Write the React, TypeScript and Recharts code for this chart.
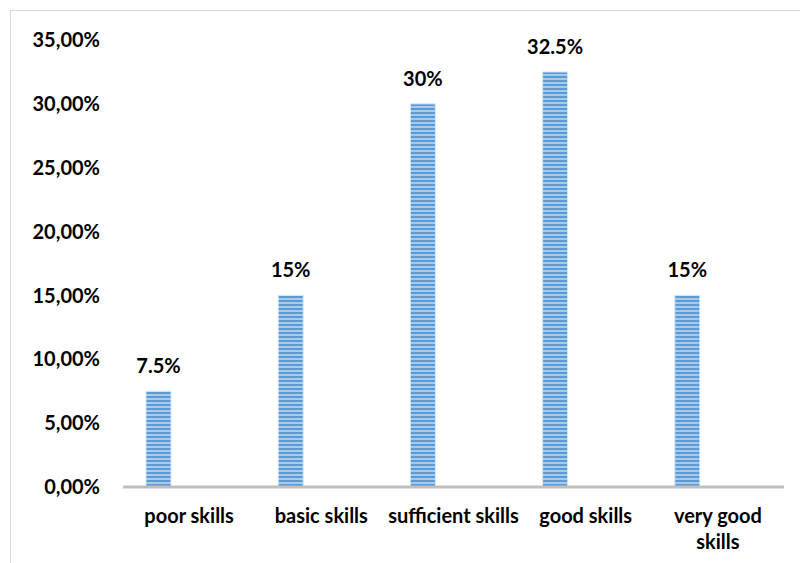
import { BarChart, Bar, XAxis, YAxis, LabelList } from 'recharts';

const categories = ['poor skills', 'basic skills', 'sufficient skills', 'good skills', 'very good skills'];
const shares = [7.5, 15, 30, 32.5, 15];
const yTicks = [0, 5, 10, 15, 20, 25, 30, 35];
// how the category labels wrap in the original
const tickLines: Record<string, string[]> = {
  'very good skills': ['very good', 'skills'],
};

const data = categories.map((name, i) => ({ name, share: shares[i], empty: 0 }));

const font = 'Lato, "Open Sans", sans-serif';

function CategoryTick(props: any) {
  const { x, y, payload } = props;
  const lines = tickLines[payload.value] || [payload.value];
  return (
    <g transform={`translate(${x},${y})`}>
      {lines.map((line: string, i: number) => (
        <text
          key={i}
          x={0}
          y={20 + i * 26}
          textAnchor="middle"
          dominantBaseline="central"
          fontFamily={font}
          fontWeight={700}
          fontSize={20}
          fill="#000"
        >
          {line}
        </text>
      ))}
    </g>
  );
}

export default function App() {
  return (
    <div style={{ position: 'absolute', left: 0, top: 0, width: 800, height: 563, background: '#fff' }}>
      <div
        style={{
          position: 'absolute',
          left: 10,
          top: 10,
          width: 800,
          height: 563,
          border: '1px solid #d9d9d9',
        }}
      />
      <BarChart
        width={800}
        height={563}
        data={data}
        margin={{ top: 40, right: 16, left: 0, bottom: 0 }}
        barSize={25}
        barGap={36}
        style={{ position: 'absolute', left: 0, top: 0 }}
      >
        <defs>
          <pattern id="stripes" width="4" height="4" patternUnits="userSpaceOnUse">
            <rect width="4" height="4" fill="#a9cbeb" />
            <rect width="4" height="2" fill="#5b9bd5" />
          </pattern>
        </defs>
        <XAxis
          dataKey="name"
          height={76}
          tick={<CategoryTick />}
          tickLine={false}
          axisLine={{ stroke: '#bfbfbf', strokeWidth: 3 }}
          interval={0}
        />
        <YAxis
          width={123}
          domain={[0, 35]}
          ticks={yTicks}
          tickFormatter={(v) => v.toFixed(2).replace('.', ',') + '%'}
          tickLine={false}
          axisLine={false}
          tickSize={0}
          tickMargin={23}
          tick={{ fontFamily: font, fontWeight: 700, fontSize: 20, fill: '#000' }}
        />
        <Bar dataKey="share" fill="url(#stripes)" stroke="#d6e6f5" strokeWidth={1} isAnimationActive={false}>
          <LabelList
            dataKey="share"
            position="top"
            offset={18}
            formatter={(v: any) => `${v}%`}
            style={{ fontFamily: font, fontWeight: 700, fontSize: 20, fill: '#000' }}
          />
        </Bar>
        <Bar dataKey="empty" fill="none" isAnimationActive={false} />
      </BarChart>
    </div>
  );
}
